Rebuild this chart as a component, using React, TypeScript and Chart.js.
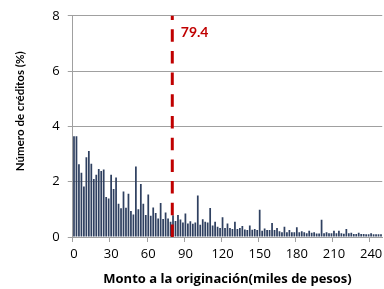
import React, { useEffect, useRef } from 'react';
import { Chart, registerables } from 'chart.js';

Chart.register(...registerables);

// Histogram: share of credits (%) by origination amount (thousands of pesos), bins of 2
const BIN_WIDTH = 2;
const SHARES = [
  3.64, 3.64, 2.63, 2.32, 1.83, 2.88, 3.11, 2.65, 2.10, 2.25,
  2.46, 2.39, 2.44, 1.45, 1.39, 2.25, 1.74, 2.15, 1.20, 1.04,
  1.65, 1.06, 1.56, 0.94, 0.81, 2.55, 1.00, 1.92, 1.20, 0.80,
  1.54, 0.77, 1.07, 0.87, 0.67, 1.23, 0.65, 0.89, 0.67, 0.55,
  0.79, 0.58, 0.80, 0.63, 0.52, 0.85, 0.49, 0.57, 0.48, 0.52,
  1.50, 0.44, 0.64, 0.55, 0.52, 1.05, 0.42, 0.55, 0.37, 0.33,
  0.71, 0.33, 0.49, 0.33, 0.29, 0.55, 0.29, 0.33, 0.40, 0.27,
  0.25, 0.42, 0.26, 0.29, 0.25, 0.99, 0.23, 0.31, 0.25, 0.25,
  0.51, 0.25, 0.33, 0.21, 0.17, 0.37, 0.17, 0.25, 0.17, 0.17,
  0.35, 0.17, 0.21, 0.17, 0.14, 0.23, 0.15, 0.17, 0.13, 0.13,
  0.62, 0.14, 0.17, 0.14, 0.14, 0.23, 0.14, 0.23, 0.14, 0.12,
  0.29, 0.14, 0.15, 0.11, 0.11, 0.15, 0.11, 0.11, 0.10, 0.10,
  0.14, 0.10, 0.10, 0.10, 0.10,
];
const BIN_STARTS = SHARES.map((_, i) => i * BIN_WIDTH);
const X_TICK_VALUES = [0, 30, 60, 90, 120, 150, 180, 210, 240];
const Y_MIN = 0;
const Y_MAX = 8;
const Y_STEP = 2;
const MEAN_VALUE = 79.4;
const MEAN_LABEL = '79.4';
const X_TITLE = 'Monto a la originación(miles de pesos)';
const Y_TITLE = 'Número de créditos (%)';

const AXIS_GREY = '#a0a0a0';
const BAR_COLOR = '#2f4060';
const RED = '#c00000';

const meanLinePlugin = {
  id: 'meanLine',
  afterDatasetsDraw(chart: any) {
    const { ctx, chartArea, scales } = chart;
    const x = scales.x.getPixelForValue(MEAN_VALUE / BIN_WIDTH);
    ctx.save();
    ctx.strokeStyle = RED;
    ctx.lineWidth = 3;
    ctx.setLineDash([12.5, 9.2]);
    ctx.lineCap = 'butt';
    ctx.beginPath();
    ctx.moveTo(x, chartArea.bottom);
    ctx.lineTo(x, chartArea.top);
    ctx.stroke();
    ctx.setLineDash([]);
    ctx.fillStyle = RED;
    ctx.font = 'bold 14px Lato';
    ctx.textAlign = 'left';
    ctx.textBaseline = 'middle';
    ctx.fillText(MEAN_LABEL, x + 8.5, chartArea.top + 16.5);
    ctx.restore();
  },
};

const yTitlePlugin = {
  id: 'yTitle',
  afterDraw(chart: any) {
    const { ctx, chartArea } = chart;
    ctx.save();
    ctx.translate(20.5, chartArea.top + 95.5);
    ctx.rotate(-Math.PI / 2);
    ctx.fillStyle = '#000';
    ctx.font = 'bold 11.5px Lato';
    ctx.textAlign = 'center';
    ctx.textBaseline = 'middle';
    ctx.fillText(Y_TITLE, 0, 0);
    ctx.restore();
  },
};

export default function App() {
  const canvasRef = useRef<HTMLCanvasElement | null>(null);

  useEffect(() => {
    const canvas = canvasRef.current;
    if (!canvas) return;
    const chart = new Chart(canvas, {
      type: 'bar',
      data: {
        labels: BIN_STARTS.map(String),
        datasets: [
          {
            data: SHARES,
            backgroundColor: BAR_COLOR,
            borderWidth: 0,
            barPercentage: 0.7,
            categoryPercentage: 1,
          },
        ],
      },
      options: {
        responsive: false,
        animation: false,
        devicePixelRatio: 1,
        layout: { padding: { top: 13, right: 0, bottom: 0, left: 0 } },
        plugins: {
          legend: { display: false },
          tooltip: { enabled: false },
        },
        scales: {
          x: {
            type: 'category',
            offset: true,
            afterFit: (scale: any) => {
              scale.height = 52;
            },
            grid: {
              offset: true,
              drawOnChartArea: false,
              drawTicks: true,
              tickLength: 5,
              tickColor: (ctx: any) =>
                ctx.index < BIN_STARTS.length && X_TICK_VALUES.includes(BIN_STARTS[ctx.index])
                  ? AXIS_GREY
                  : 'rgba(0,0,0,0)',
            },
            border: { display: true, color: AXIS_GREY, width: 1 },
            ticks: {
              autoSkip: false,
              maxRotation: 0,
              minRotation: 0,
              padding: 4,
              color: '#000',
              font: { family: 'Open Sans', size: 13 },
              callback: (_v: any, index: number) =>
                X_TICK_VALUES.includes(BIN_STARTS[index]) ? String(BIN_STARTS[index]) : '',
            },
            title: {
              display: true,
              text: X_TITLE,
              color: '#000',
              font: { family: 'Open Sans', size: 13, weight: 'bold' },
              padding: { top: 0, bottom: 2 },
            },
          },
          y: {
            min: Y_MIN,
            max: Y_MAX,
            afterFit: (scale: any) => {
              scale.width = 72.75;
            },
            grid: {
              color: AXIS_GREY,
              lineWidth: 1,
              drawTicks: true,
              tickLength: 5,
              tickColor: AXIS_GREY,
            },
            border: { display: true, color: AXIS_GREY, width: 1 },
            ticks: {
              stepSize: Y_STEP,
              padding: 8,
              color: '#000',
              font: { family: 'Open Sans', size: 13 },
            },
          },
        },
      },
      plugins: [meanLinePlugin, yTitlePlugin],
    });
    return () => chart.destroy();
  }, []);

  return (
    <div
      style={{
        position: 'fixed',
        left: 0,
        top: 0,
        width: 384,
        height: 289,
        overflow: 'hidden',
        background: '#fff',
      }}
    >
      <canvas ref={canvasRef} width={385} height={289} style={{ display: 'block' }} />
    </div>
  );
}
